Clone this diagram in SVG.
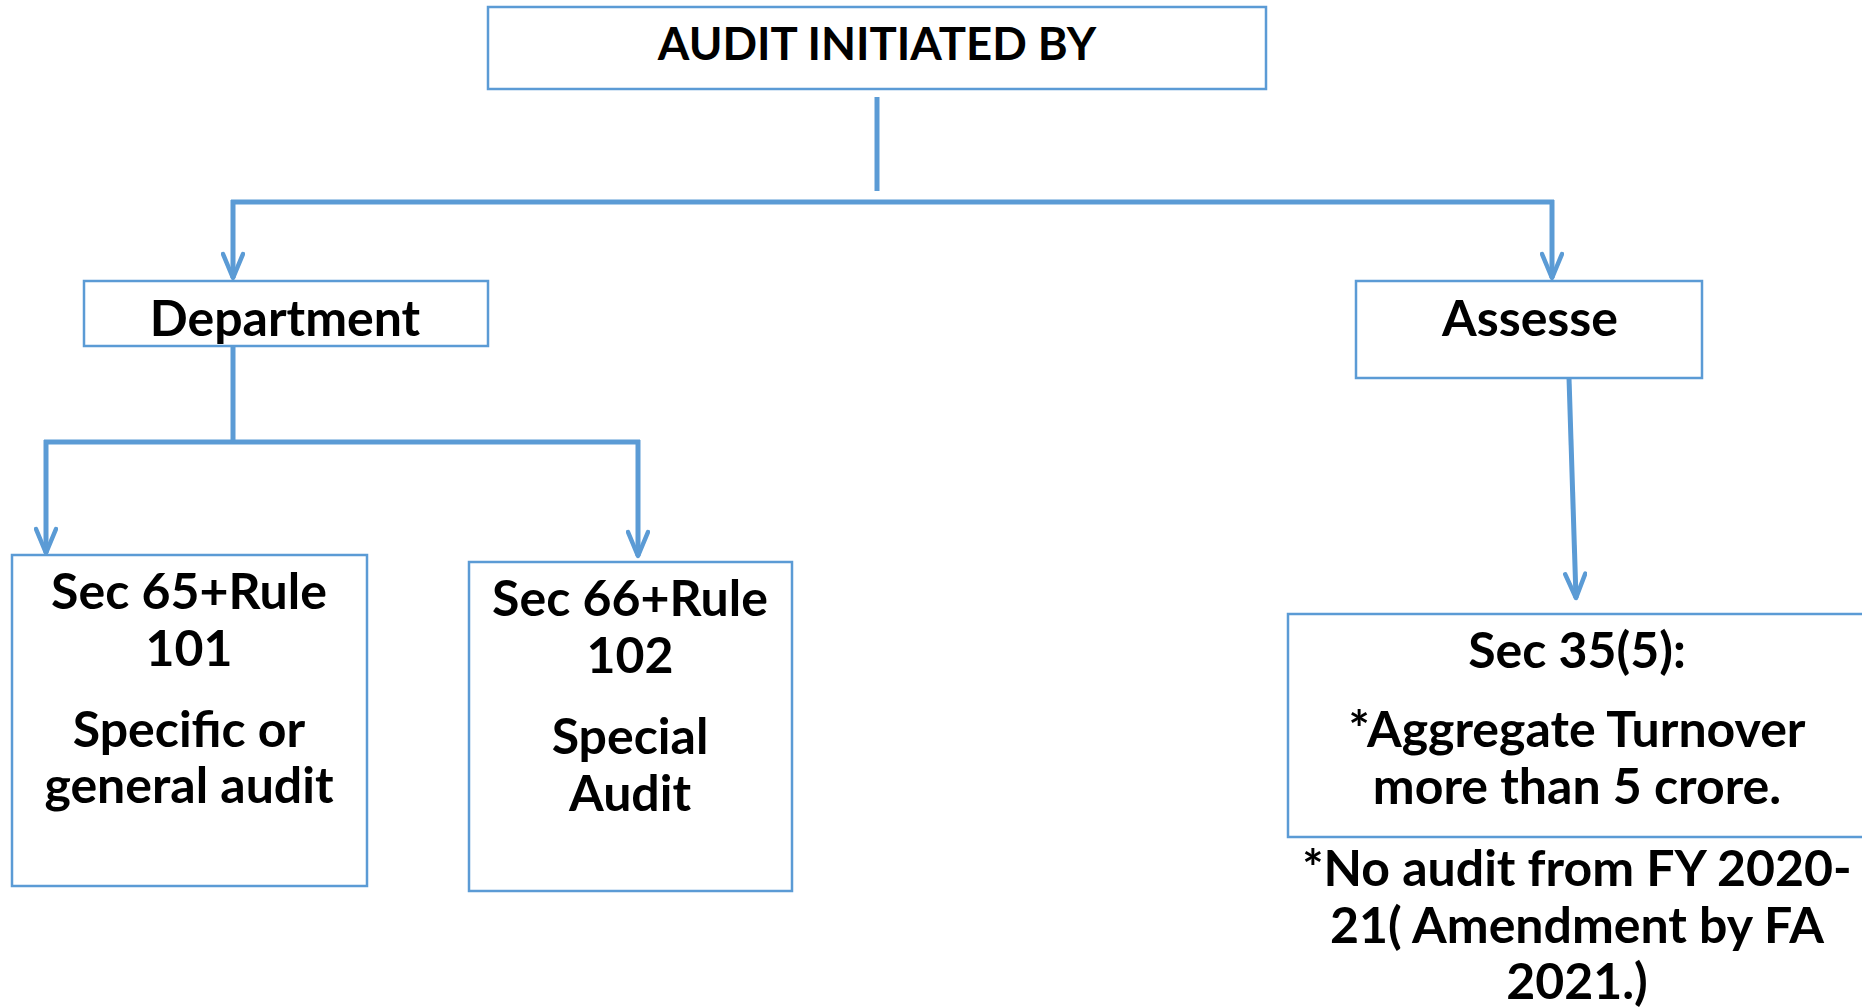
<svg xmlns="http://www.w3.org/2000/svg" width="1862" height="1008" viewBox="0 0 1862 1008">
<defs>
<style>
.box{fill:#fff;stroke:#5B9BD5;stroke-width:2.5}
.ln{fill:none;stroke:#5B9BD5;stroke-width:5;stroke-linecap:butt}
.t{font-family:Lato,"Open Sans",sans-serif;font-weight:bold;fill:#000;text-anchor:middle;font-size:50px}
</style>
<marker id="ah" markerUnits="userSpaceOnUse" viewBox="0 0 30 24" refX="27" refY="12" markerWidth="30" markerHeight="24" orient="auto">
<path d="M3,2 L27,12 L3,22" fill="none" stroke="#5B9BD5" stroke-width="4.5" stroke-linecap="round" stroke-linejoin="round"/>
</marker>
</defs>
<rect width="1862" height="1008" fill="#fff"/>
<g id="connectors">
<line class="ln" x1="877" y1="97" x2="877" y2="191"/>
<line class="ln" x1="231" y1="202" x2="1554" y2="202"/>
<line class="ln" x1="233" y1="200" x2="233" y2="278" marker-end="url(#ah)"/>
<line class="ln" x1="1552" y1="200" x2="1552" y2="278" marker-end="url(#ah)"/>
<line class="ln" x1="233" y1="346" x2="233" y2="442"/>
<line class="ln" x1="44" y1="442" x2="640" y2="442"/>
<line class="ln" x1="46" y1="440" x2="46" y2="553" marker-end="url(#ah)"/>
<line class="ln" x1="638" y1="440" x2="638" y2="556" marker-end="url(#ah)"/>
<line class="ln" x1="1569" y1="378" x2="1576" y2="598" marker-end="url(#ah)"/>
</g>
<g id="node-audit">
<rect class="box" x="488" y="7" width="778" height="82"/>
<text class="t" x="877" y="60" style="font-size:45.5px">AUDIT INITIATED BY</text>
</g>
<g id="node-department">
<rect class="box" x="84" y="281" width="404" height="65"/>
<text class="t" x="285" y="336">Department</text>
</g>
<g id="node-assesse">
<rect class="box" x="1356" y="281" width="346" height="97"/>
<text class="t" x="1530" y="336">Assesse</text>
</g>
<g id="node-sec65">
<rect class="box" x="12" y="555" width="355" height="331"/>
<text class="t" x="189" y="609">Sec 65+Rule</text>
<text class="t" x="189" y="666">101</text>
<text class="t" x="189" y="747">Specific or</text>
<text class="t" x="189" y="803">general audit</text>
</g>
<g id="node-sec66">
<rect class="box" x="469" y="562" width="323" height="329"/>
<text class="t" x="630" y="616">Sec 66+Rule</text>
<text class="t" x="630" y="673">102</text>
<text class="t" x="630" y="754">Special</text>
<text class="t" x="630" y="811">Audit</text>
</g>
<g id="node-sec35">
<rect class="box" x="1288" y="614" width="590" height="223"/>
<text class="t" x="1577" y="668">Sec 35(5):</text>
<text class="t" x="1577" y="747">*Aggregate Turnover</text>
<text class="t" x="1577" y="804">more than 5 crore.</text>
</g>
<g id="note">
<text class="t" x="1577" y="886">*No audit from FY 2020-</text>
<text class="t" x="1577" y="943">21( Amendment by FA</text>
<text class="t" x="1577" y="999">2021.)</text>
</g>
</svg>
